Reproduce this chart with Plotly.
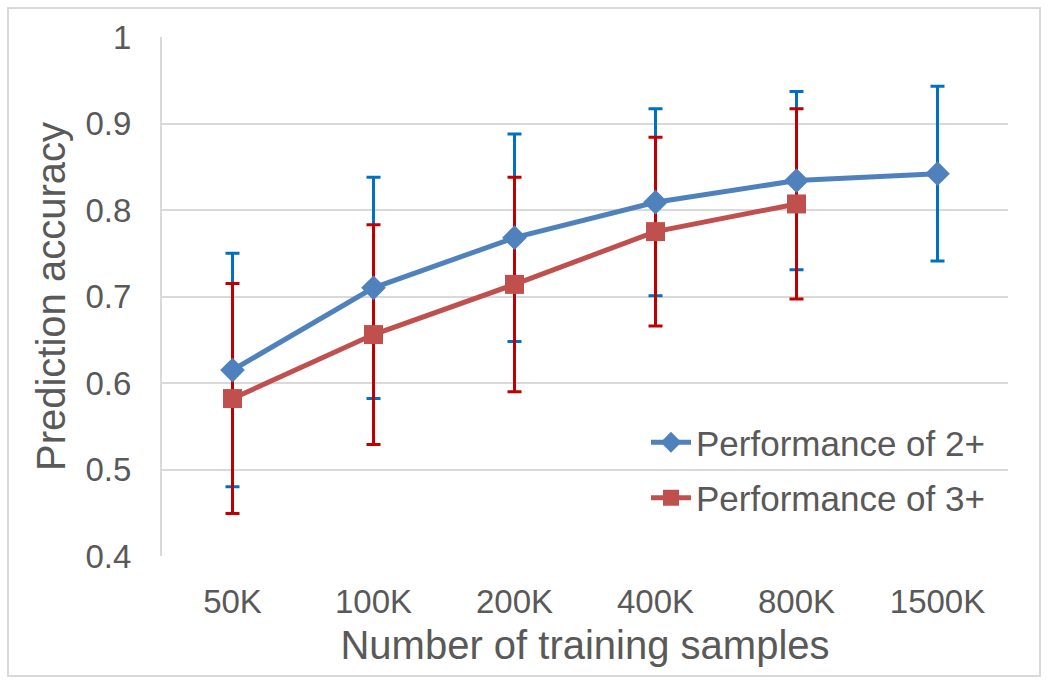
import plotly.graph_objects as go

categories = ["50K", "100K", "200K", "400K", "800K", "1500K"]
perf_2 = [0.615, 0.710, 0.768, 0.809, 0.834, 0.842]
err_2 = [0.135, 0.128, 0.120, 0.108, 0.103, 0.101]
perf_3 = [0.582, 0.656, 0.714, 0.775, 0.807]
err_3 = [0.133, 0.127, 0.124, 0.109, 0.110]
cats_3 = categories[:len(perf_3)]

y_ticks = [0.4, 0.5, 0.6, 0.7, 0.8, 0.9, 1.0]
y_tick_text = ["0.4", "0.5", "0.6", "0.7", "0.8", "0.9", "1"]

BLUE_LINE = "#4F81BD"
RED_LINE = "#C0504D"
BLUE_ERR = "#0070C0"
RED_ERR = "#C00000"
TXT = "#595959"
GRID = "#D9D9D9"
FONT = "Liberation Sans, Arial, sans-serif"

fig = go.Figure()

# error bars first (underneath lines and markers)
fig.add_trace(go.Scatter(
    x=categories, y=perf_2, mode="markers",
    marker=dict(size=1, color="rgba(0,0,0,0)"),
    error_y=dict(type="data", array=err_2, visible=True, color=BLUE_ERR, thickness=3, width=7),
    showlegend=False, hoverinfo="skip"))
fig.add_trace(go.Scatter(
    x=cats_3, y=perf_3, mode="markers",
    marker=dict(size=1, color="rgba(0,0,0,0)"),
    error_y=dict(type="data", array=err_3, visible=True, color=RED_ERR, thickness=3, width=7),
    showlegend=False, hoverinfo="skip"))

fig.add_trace(go.Scatter(
    x=categories, y=perf_2, mode="lines+markers", name="Performance of 2+",
    legendgroup="g2",
    line=dict(color=BLUE_LINE, width=5),
    marker=dict(symbol="diamond", size=19, color=BLUE_LINE)))
fig.add_trace(go.Scatter(
    x=cats_3, y=perf_3, mode="lines+markers", name="Performance of 3+",
    legendgroup="g3",
    line=dict(color=RED_LINE, width=5),
    marker=dict(symbol="square", size=19, color=RED_LINE)))

W, H = 1050, 683
L, R, T, B = 162, 42, 37, 127
pw, ph = W - L - R, H - T - B

def px_x(p):
    return (p - L) / pw

def px_y(p):
    return (H - B - p) / ph

fig.update_layout(
    width=W, height=H,
    margin=dict(l=L, r=R, t=T, b=B),
    paper_bgcolor="white", plot_bgcolor="white",
    font=dict(family=FONT, color=TXT, size=33),
    showlegend=True,
    legend=dict(
        x=px_x(646), y=px_y(413), xanchor="left", yanchor="top",
        bgcolor="rgba(0,0,0,0)", font=dict(size=35, color=TXT),
        traceorder="grouped", tracegroupgap=7, itemwidth=40,
    ),
    xaxis=dict(
        type="category", range=[-0.5, 5.5],
        showgrid=False, zeroline=False, showline=False,
        ticks="outside", ticklen=16, tickcolor="rgba(0,0,0,0)",
        tickfont=dict(size=33, color=TXT),
        title=dict(text="Number of training samples", font=dict(size=40, color=TXT), standoff=12),
    ),
    yaxis=dict(
        range=[0.4, 1.0], tickvals=y_ticks, ticktext=y_tick_text,
        showgrid=True, gridcolor=GRID, gridwidth=2,
        zeroline=False, showline=True, linecolor=GRID, linewidth=2,
        ticks="outside", ticklen=22, tickcolor="rgba(0,0,0,0)",
        tickfont=dict(size=33, color=TXT),
        title=dict(text="Prediction accuracy", font=dict(size=40, color=TXT), standoff=8),
    ),
    shapes=[dict(
        type="rect", xref="paper", yref="paper",
        x0=px_x(8), x1=px_x(1040), y0=px_y(676), y1=px_y(8),
        line=dict(color=GRID, width=2), fillcolor="rgba(0,0,0,0)", layer="below")],
)

fig.write_html(
    "out.html",
    config={"displayModeBar": False},
    post_script="document.body.style.margin='0';document.body.style.padding='0';",
)
